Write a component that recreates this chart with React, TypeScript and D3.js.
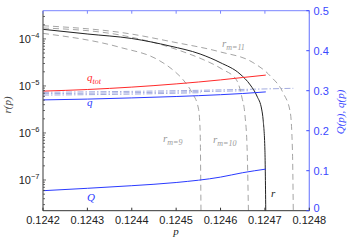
import React, { useRef, useEffect } from "react";
import * as d3 from "d3";

// x ticks (p)
const pTicks = [0.1242, 0.1243, 0.1244, 0.1245, 0.1246, 0.1247, 0.1248];
// left axis decades (log r)
const leftExps = [-7, -6, -5, -4];
// right axis ticks
const rightTicks = [0, 0.1, 0.2, 0.3, 0.4, 0.5];

// r(p), black solid
const rP = [0.1242, 0.124301, 0.1244, 0.124486, 0.124554, 0.124599, 0.124644, 0.124667, 0.124682, 0.124693, 0.124696, 0.1247, 0.124702];
const rVal = [1.6e-4, 1.27e-4, 1.02e-4, 7.06e-5, 4.78e-5, 3.15e-5, 1.79e-5, 1.05e-5, 6.1e-6, 3.08e-6, 1.89e-6, 4.3e-7, 1.8e-8];

// r_m curves, grey dashed
const rm9P = [0.1242, 0.124374, 0.12446, 0.124493, 0.124516, 0.124536, 0.12455, 0.124554, 0.124556];
const rm9Val = [1.31e-4, 6.6e-5, 3.56e-5, 2.18e-5, 1.34e-5, 7.1e-6, 3.4e-6, 1.16e-6, 1.8e-8];
const rm10P = [0.1242, 0.124374, 0.124524, 0.124558, 0.124603, 0.124636, 0.124648, 0.124655, 0.12466, 0.124663];
const rm10Val = [1.71e-4, 1.21e-4, 5.0e-5, 3.74e-5, 2.29e-5, 1.34e-5, 5.8e-6, 2.41e-6, 4.3e-7, 1.8e-8];
const rm11P = [0.1242, 0.124392, 0.124493, 0.124599, 0.124671, 0.124712, 0.124741, 0.124757, 0.124762, 0.124764];
const rm11Val = [1.91e-4, 1.3e-4, 8.6e-5, 5.3e-5, 3.23e-5, 1.63e-5, 7.1e-6, 2.79e-6, 4.3e-7, 1.8e-8];

// q_tot, q, Q on right axis
const qP = [0.1242, 0.1243, 0.1244, 0.1245, 0.1246, 0.12465, 0.124702];
const qTotVal = [0.299, 0.303, 0.309, 0.317, 0.327, 0.333, 0.339];
const qVal = [0.277, 0.279, 0.282, 0.2855, 0.29, 0.293, 0.297];
const QVal = [0.05, 0.056, 0.0625, 0.0705, 0.084, 0.095, 0.104];

// q_m, light blue dash-dot
const qm9P = [0.1242, 0.1244, 0.124556];
const qm9Val = [0.289, 0.2915, 0.295];
const qm10P = [0.1242, 0.1244, 0.124663];
const qm10Val = [0.2925, 0.295, 0.3];
const qm11P = [0.1242, 0.1245, 0.124764];
const qm11Val = [0.296, 0.3, 0.306];

const W = 352;
const H = 240;
const X0 = 43;
const X1 = 309.3;
const Y0 = 10.7;
const Y1 = 210.7;
const BLUE = "#3a48ff";
const SANS = "'Liberation Sans', Arial, sans-serif";
const SERIF = "'Liberation Serif', 'DejaVu Serif', serif";

export default function App() {
  const svgRef = useRef<SVGSVGElement>(null);

  useEffect(() => {
    if (!svgRef.current) return;
    const svg = d3.select(svgRef.current);
    svg.selectAll("*").remove();

    const x = d3.scaleLinear().domain([0.1242, 0.1248]).range([X0, X1]);
    const yL = d3.scaleLog().domain([Math.pow(10, -7.653), Math.pow(10, -3.4)]).range([Y1, Y0]);
    const yR = d3.scaleLinear().domain([0, 0.5]).range([Y1, Y0]);

    svg
      .append("defs")
      .append("clipPath")
      .attr("id", "plotclip")
      .append("rect")
      .attr("x", X0)
      .attr("y", Y0)
      .attr("width", X1 - X0)
      .attr("height", Y1 - Y0);

    const plot = svg.append("g").attr("clip-path", "url(#plotclip)");

    const lineL = (ps: number[], vs: number[]) =>
      d3
        .line<number>()
        .x((_, i) => x(ps[i]))
        .y((d) => yL(d))
        .curve(d3.curveMonotoneX)(vs);
    const lineR = (ps: number[], vs: number[]) =>
      d3
        .line<number>()
        .x((_, i) => x(ps[i]))
        .y((d) => yR(d))
        .curve(d3.curveMonotoneX)(vs);

    // dash-dot q_m
    [
      [qm9P, qm9Val],
      [qm10P, qm10Val],
      [qm11P, qm11Val],
    ].forEach(([ps, vs]) => {
      plot
        .append("path")
        .attr("d", lineR(ps, vs))
        .attr("fill", "none")
        .attr("stroke", "#a3acdf")
        .attr("stroke-width", 1)
        .attr("stroke-dasharray", "6,2,1.5,2");
    });

    // dashed r_m
    [
      [rm9P, rm9Val],
      [rm10P, rm10Val],
      [rm11P, rm11Val],
    ].forEach(([ps, vs]) => {
      plot
        .append("path")
        .attr("d", lineL(ps, vs))
        .attr("fill", "none")
        .attr("stroke", "#9a9a9a")
        .attr("stroke-width", 0.9)
        .attr("stroke-dasharray", "6,4");
    });

    // r(p)
    plot
      .append("path")
      .attr("d", lineL(rP, rVal))
      .attr("fill", "none")
      .attr("stroke", "#222")
      .attr("stroke-width", 1);

    // q_tot, q, Q
    plot
      .append("path")
      .attr("d", lineR(qP, qTotVal))
      .attr("fill", "none")
      .attr("stroke", "#ff2a2a")
      .attr("stroke-width", 1);
    plot
      .append("path")
      .attr("d", lineR(qP, qVal))
      .attr("fill", "none")
      .attr("stroke", "#2a3aff")
      .attr("stroke-width", 1);
    plot
      .append("path")
      .attr("d", lineR(qP, QVal))
      .attr("fill", "none")
      .attr("stroke", "#2a3aff")
      .attr("stroke-width", 1);

    // axes frame
    svg.append("line").attr("x1", X0).attr("x2", X0).attr("y1", Y0).attr("y2", Y1).attr("stroke", "#666").attr("stroke-width", 1.3);
    svg.append("line").attr("x1", X0).attr("x2", X1).attr("y1", Y1).attr("y2", Y1).attr("stroke", "#333").attr("stroke-width", 1);
    svg.append("line").attr("x1", X0).attr("x2", X1).attr("y1", Y0).attr("y2", Y0).attr("stroke", "#7a86ff").attr("stroke-width", 1);
    svg.append("line").attr("x1", X1).attr("x2", X1).attr("y1", Y0).attr("y2", Y1).attr("stroke", "#7a86ff").attr("stroke-width", 1.2);

    // x ticks
    pTicks.forEach((p) => {
      svg.append("line").attr("x1", x(p)).attr("x2", x(p)).attr("y1", Y1).attr("y2", Y1 - 3).attr("stroke", "#333");
      svg.append("line").attr("x1", x(p)).attr("x2", x(p)).attr("y1", Y0).attr("y2", Y0 + 3).attr("stroke", "#7a86ff");
      svg
        .append("text")
        .attr("x", x(p))
        .attr("y", Y1 + 13)
        .attr("text-anchor", "middle")
        .style("font-family", SANS)
        .style("font-size", "11px")
        .style("fill", "#222")
        .text(p.toFixed(4));
    });

    // left log ticks
    for (let e = -8; e <= -3; e++) {
      for (let m = 1; m <= 9; m++) {
        const v = m * Math.pow(10, e);
        const yy = yL(v);
        if (yy < Y0 || yy > Y1) continue;
        svg
          .append("line")
          .attr("x1", X0)
          .attr("x2", X0 + (m === 1 ? 3 : 2))
          .attr("y1", yy)
          .attr("y2", yy)
          .attr("stroke", "#444")
          .attr("stroke-width", 0.8);
      }
    }
    leftExps.forEach((e) => {
      const t = svg
        .append("text")
        .attr("x", 39.5)
        .attr("y", yL(Math.pow(10, e)) + 4)
        .attr("text-anchor", "end")
        .style("font-family", SANS)
        .style("font-size", "11px")
        .style("fill", "#222");
      t.append("tspan").text("10");
      t.append("tspan").attr("dy", -5).style("font-size", "7.5px").text(`\u2212${-e}`);
    });

    // right ticks
    rightTicks.forEach((v) => {
      svg.append("line").attr("x1", X1).attr("x2", X1 - 3).attr("y1", yR(v)).attr("y2", yR(v)).attr("stroke", BLUE);
      svg
        .append("text")
        .attr("x", 313.5)
        .attr("y", yR(v) + (v === 0 ? 1.5 : 4))
        .style("font-family", SANS)
        .style("font-size", "11px")
        .style("fill", BLUE)
        .text(v === 0 ? "0" : v.toFixed(1));
    });

    // axis labels
    svg
      .append("text")
      .attr("x", 176)
      .attr("y", 234.5)
      .attr("text-anchor", "middle")
      .style("font-family", SERIF)
      .style("font-style", "italic")
      .style("font-size", "11px")
      .style("fill", "#222")
      .text("p");
    svg
      .append("text")
      .attr("transform", "translate(11,105) rotate(-90)")
      .attr("text-anchor", "middle")
      .style("font-family", SERIF)
      .style("font-style", "italic")
      .style("font-size", "11px")
      .style("fill", "#444")
      .text("r(p)");
    svg
      .append("text")
      .attr("transform", "translate(344,112) rotate(-90)")
      .attr("text-anchor", "middle")
      .style("font-family", SERIF)
      .style("font-style", "italic")
      .style("font-size", "11px")
      .style("fill", BLUE)
      .text("Q(p), q(p)");

    // curve labels
    const label = (tx: number, ty: number, main: string, sub: string, color: string) => {
      const t = svg
        .append("text")
        .attr("x", tx)
        .attr("y", ty)
        .style("font-family", SERIF)
        .style("font-style", "italic")
        .style("font-size", "11px")
        .style("fill", color);
      t.append("tspan").text(main);
      if (sub) t.append("tspan").attr("dy", 2.5).style("font-size", "8px").text(sub);
    };
    label(87, 81, "q", "tot", "#ff2a2a");
    label(87, 106, "q", "", "#2a3aff");
    label(87, 201, "Q", "", "#2a3aff");
    label(222, 47, "r", "m=11", "#9a9a9a");
    label(163, 142, "r", "m=9", "#9a9a9a");
    label(213, 143, "r", "m=10", "#9a9a9a");
    label(271, 197, "r", "", "#222");
  }, []);

  return (
    <svg
      ref={svgRef}
      width={W}
      height={H}
      viewBox={`0 0 ${W} ${H}`}
      style={{ position: "absolute", left: 0, top: 0, background: "#fff" }}
    />
  );
}
